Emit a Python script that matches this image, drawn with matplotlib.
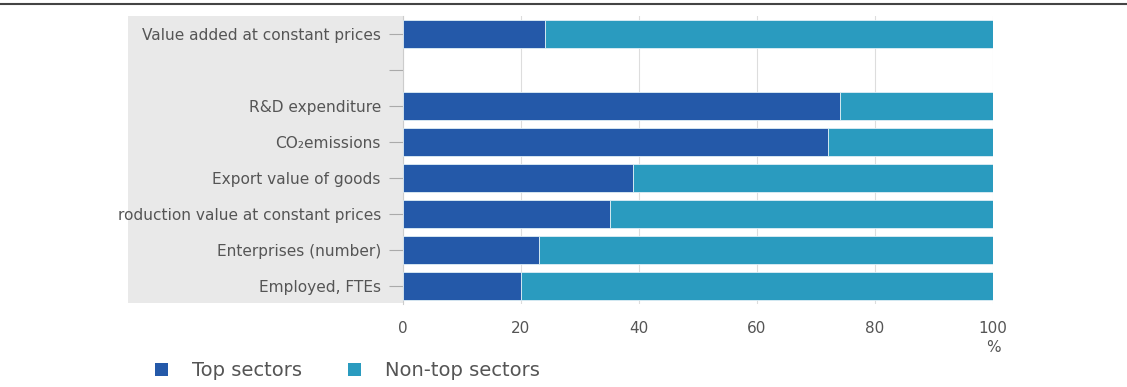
import numpy as np
import matplotlib.pyplot as plt
from matplotlib.patches import Patch, Rectangle
from matplotlib.lines import Line2D
from matplotlib.transforms import Bbox, TransformedBbox

plt.rcParams['font.family'] = ['DejaVu Sans']

# data (share in %), top row first
categories = ["Value added at constant prices", "", "R&D expenditure",
              "CO\u2082emissions", "Export value of goods",
              "Production value at constant prices", "Enterprises (number)",
              "Employed, FTEs"]
top_share = [24, np.nan, 74, 72, 39, 35, 23, 20]
non_top_share = [76, np.nan, 26, 28, 61, 65, 77, 80]
series_names = ["Top sectors", "Non-top sectors"]

dark_blue = "#2459a9"
light_blue = "#2a9bbf"
text_col = "#555555"

W, H = 1127, 387
fig = plt.figure(figsize=(W / 100, H / 100), dpi=100)
ax = fig.add_axes([403 / W, 1 - 304 / H, 590 / W, 288 / H])

# grey panel behind the category labels
fig.add_artist(Rectangle((128 / W, 1 - 303 / H), (403 - 128) / W, (303 - 16) / H,
                         transform=fig.transFigure, facecolor="#e9e9e9",
                         edgecolor="none", zorder=0))
# rule at the top
fig.add_artist(Line2D([0, 1], [1 - 4 / H, 1 - 4 / H], transform=fig.transFigure,
                      color="#444444", linewidth=1.5))

y = np.arange(len(categories))
ax.barh(y, top_share, height=0.76, color=dark_blue, edgecolor="#dfeef5",
        linewidth=0.6, zorder=3, label=series_names[0])
ax.barh(y, non_top_share, left=top_share, height=0.76, color=light_blue,
        edgecolor="#dfeef5", linewidth=0.6, zorder=3, label=series_names[1])

ax.set_ylim(len(categories) - 0.5, -0.5)
ax.set_xlim(0, 100)
ax.set_xticks([0, 20, 40, 60, 80, 100])
ax.set_yticks(y)
ax.set_yticklabels(categories)
ax.grid(axis="x", color="#dddddd", linewidth=0.8, zorder=0)
ax.set_facecolor("white")

for s in ["top", "right", "bottom"]:
    ax.spines[s].set_visible(False)
ax.spines["left"].set_color("#cccccc")

ax.tick_params(axis="y", length=10, color="#aaaaaa", labelsize=11.1,
               labelcolor=text_col, pad=6)
ax.tick_params(axis="x", length=0, labelsize=11, labelcolor=text_col, pad=12)

# clip labels at the left edge like the original
clip = TransformedBbox(Bbox([[119 / W, 0], [1, 1]]), fig.transFigure)
for lab in ax.get_yticklabels():
    lab.set_clip_box(clip)
    lab.set_clip_on(True)

fig.text(993 / W, 1 - 347 / H, "%", ha="center", va="center",
         fontsize=11, color=text_col)

handles = [Patch(facecolor=dark_blue, edgecolor="none"),
           Patch(facecolor=light_blue, edgecolor="none")]
fig.legend(handles, series_names, loc="center left",
           bbox_to_anchor=(155 / W, 1 - 371 / H), ncol=2, frameon=False,
           fontsize=14, handlelength=0.67, handleheight=0.67, handletextpad=1.22,
           columnspacing=2.4, borderpad=0, borderaxespad=0, labelcolor=text_col)

fig.savefig("out.png", dpi=100)
